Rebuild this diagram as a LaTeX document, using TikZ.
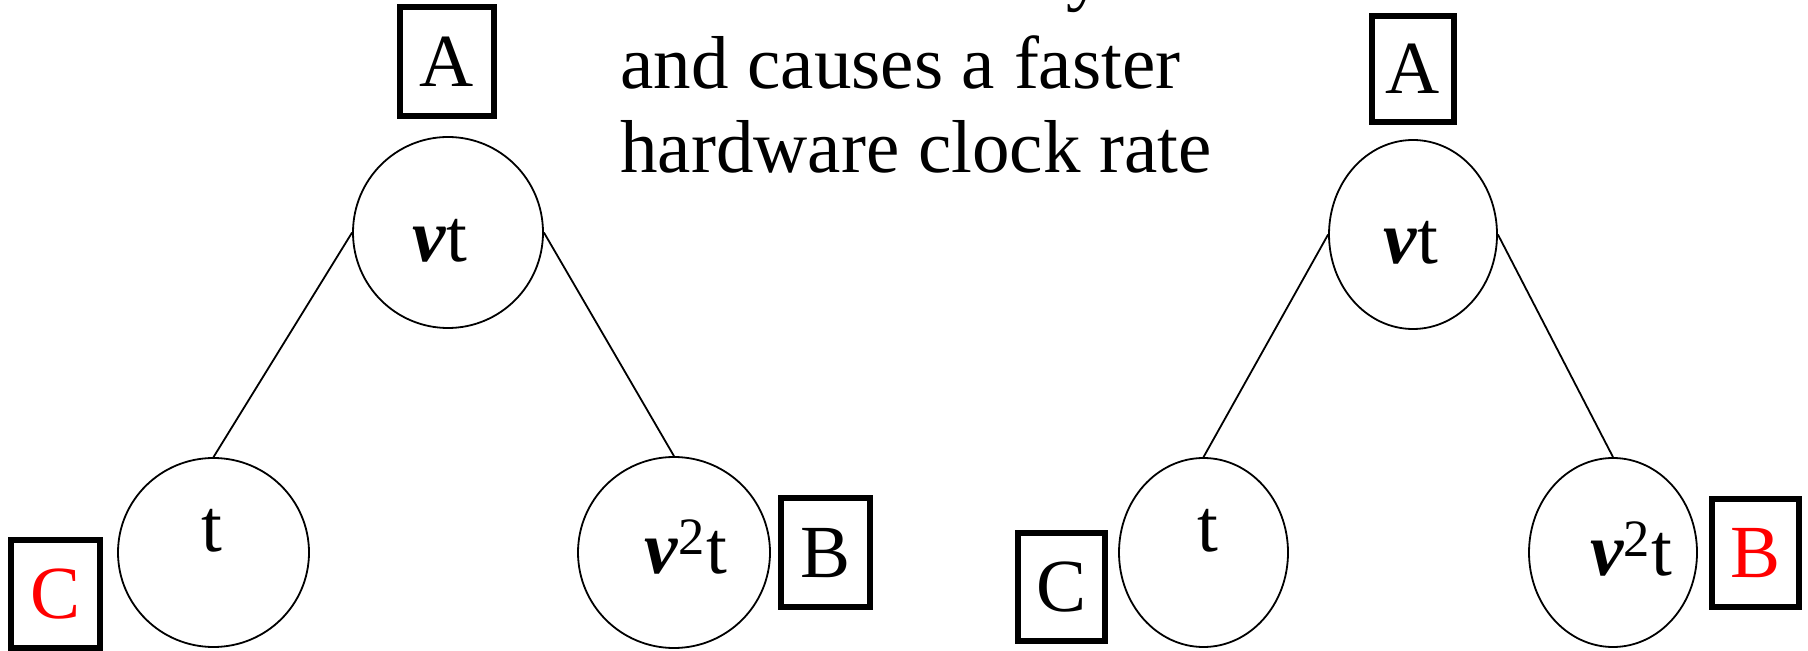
\documentclass[tikz,border=0pt]{standalone}
\usepackage{fontspec}
\setmainfont{Liberation Serif}
\usetikzlibrary{shapes.geometric}
\begin{document}
\begin{tikzpicture}[x=0.5pt,y=-0.5pt,
  every node/.style={font=\fontsize{37.5}{42}\selectfont},
  lbox/.style={draw, line width=3pt, inner sep=0pt, text height=24.8pt, text depth=0pt},
  oval/.style={draw, ellipse, line width=0.9pt, inner sep=0pt},
  lab/.style={anchor=base, inner sep=0pt},
  txt/.style={anchor=base west, inner sep=0pt},
  edge/.style={line width=0.9pt}]
\useasboundingbox (0,0) rectangle (1808,651);
% clipped fragment of the line above
\begin{scope}
\clip (0,0) rectangle (1808,651);
\node[txt] (frag) at (1066,-3) {y};
\end{scope}
% top text
\node[txt] (line1) at (620,89) {and causes a faster};
\node[txt] (line2) at (620,173) {hardware clock rate};
% ---------- left tree ----------
\node[oval, minimum width=95pt, minimum height=95.5pt] (Lvt) at (448,232.5) {};
\node[oval, minimum width=95.5pt, minimum height=94.5pt] (Lt) at (213.5,552.5) {};
\node[oval, minimum width=96pt, minimum height=95.5pt] (Lvv) at (674,552.5) {};
\node[lab] (Lvtx) at (440,262) {\textbf{\textit{ν}}t};
\node[lab] (Ltx) at (212,552) {t};
\node[lab] (Lvvx) at (686,573) {\textbf{\textit{ν}}\textsuperscript{2}t};
\node[lbox, minimum width=47pt, minimum height=54.5pt] (LA) at (447,61.5) {A};
\node[lbox, minimum width=44.5pt, minimum height=54.5pt] (LB) at (825.5,552.5) {B};
\node[lbox, minimum width=44.5pt, minimum height=54pt, text=red] (LC) at (55.5,594) {C};
\draw[edge] (Lvt.west) -- (Lt.north);
\draw[edge] (Lvt.east) -- (Lvv.north);
% ---------- right tree ----------
\node[oval, minimum width=84pt, minimum height=94.5pt] (Rvt) at (1413,234.5) {};
\node[oval, minimum width=84.5pt, minimum height=94.5pt] (Rt) at (1203.5,552.5) {};
\node[oval, minimum width=84pt, minimum height=94.5pt] (Rvv) at (1613,552.5) {};
\node[lab] (Rvtx) at (1411,264) {\textbf{\textit{ν}}t};
\node[lab] (Rtx) at (1208,552) {t};
\node[lab] (Rvvx) at (1631,575) {\textbf{\textit{ν}}\textsuperscript{2}t};
\node[lbox, minimum width=41pt, minimum height=53pt] (RA) at (1412.5,69) {A};
\node[lbox, minimum width=43.5pt, minimum height=54pt, text=red] (RB) at (1755.5,553) {B};
\node[lbox, minimum width=43.5pt, minimum height=54pt] (RC) at (1061.5,587) {C};
\draw[edge] (Rvt.west) -- (Rt.north);
\draw[edge] (Rvt.east) -- (Rvv.north);
\end{tikzpicture}
\end{document}
